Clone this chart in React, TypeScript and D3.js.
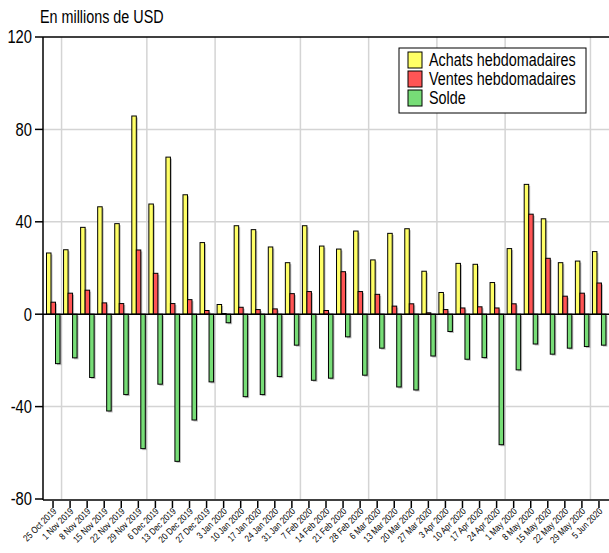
import React from "react";
import * as d3 from "d3";

const dates = ["25 Oct 2019","1 Nov 2019","8 Nov 2019","15 Nov 2019","22 Nov 2019","29 Nov 2019","6 Dec 2019","13 Dec 2019","20 Dec 2019","27 Dec 2019","3 Jan 2020","10 Jan 2020","17 Jan 2020","24 Jan 2020","31 Jan 2020","7 Feb 2020","14 Feb 2020","21 Feb 2020","28 Feb 2020","6 Mar 2020","13 Mar 2020","20 Mar 2020","27 Mar 2020","3 Apr 2020","10 Apr 2020","17 Apr 2020","24 Apr 2020","1 May 2020","8 May 2020","15 May 2020","22 May 2020","29 May 2020","5 Jun 2020"];

const achats = [26.5, 27.9, 37.6, 46.5, 39.2, 85.8, 47.7, 68.0, 51.7, 31.0, 4.2, 38.3, 36.6, 29.1, 22.3, 38.3, 29.5, 28.2, 36.0, 23.5, 35.0, 37.0, 18.6, 9.4, 22.0, 21.6, 13.7, 28.4, 56.2, 41.3, 22.3, 23.0, 27.1];
const ventes = [5.2, 9.1, 10.4, 4.9, 4.6, 27.8, 17.7, 4.6, 6.3, 1.6, 0.3, 3.0, 2.0, 2.3, 8.9, 9.8, 1.6, 18.4, 9.8, 8.6, 3.5, 4.5, 0.6, 2.0, 2.7, 3.2, 2.7, 4.5, 43.3, 24.2, 7.8, 9.1, 13.5];
const solde = [-21.4, -18.9, -27.4, -41.9, -34.8, -58.2, -30.3, -63.7, -45.8, -29.3, -3.7, -35.7, -34.8, -27.0, -13.4, -28.6, -27.7, -9.8, -26.4, -14.7, -31.5, -32.8, -18.1, -7.5, -19.5, -18.8, -56.5, -24.1, -12.9, -17.3, -14.7, -14.0, -13.4];

const seriesNames = ["Achats hebdomadaires", "Ventes hebdomadaires", "Solde"];
const seriesColors = ["#ffff66", "#ff5555", "#77dd77"];
const yTicks = [120, 80, 40, 0, -40, -80];
const title = "En millions de USD";

const W = 609, H = 553;
const left = 43, right = 609, top = 37, bottom = 499;
const FONT = "'Liberation Sans', Arial, sans-serif";
const NARROW = 0.82;

export default function App() {
  const series = [achats, ventes, solde];
  const y = d3.scaleLinear().domain([-80, 120]).range([bottom, top]);
  const x = d3.scaleBand<string>().domain(dates).range([44.5, 607.5]).padding(0);
  const xs = d3.scaleBand<number>().domain([0, 1, 2]).range([2, 15.5]).padding(0);
  const monthOf = (s: string) => s.split(" ")[1];
  const boundaries = dates.filter((d, i) => i > 0 && monthOf(d) !== monthOf(dates[i - 1]));

  return (
    <svg width={W} height={H} style={{ position: "absolute", left: 0, top: 0, background: "#fff" }} fontFamily={FONT}>
      <rect x={0} y={0} width={W} height={H} fill="#fff" />
      <defs>
        <clipPath id="plot"><rect x={left} y={top - 1} width={right - left} height={bottom - top + 2} /></clipPath>
      </defs>
      {/* grid */}
      <g clipPath="url(#plot)">
        {yTicks.filter(t => t !== 0 && t !== 120 && t !== -80).map(t => (
          <line key={t} x1={left} x2={right} y1={y(t)} y2={y(t)} stroke="#d4d4d4" strokeWidth={1.5} />
        ))}
        {boundaries.map(d => (
          <line key={d} x1={x(d)!} x2={x(d)!} y1={top} y2={bottom} stroke="#d4d4d4" strokeWidth={1.5} />
        ))}
      </g>
      {/* bars */}
      <g>
        {series.map((vals, si) => vals.map((v, i) => {
          const bx = x(dates[i])! + xs(si)!;
          const bw = xs.bandwidth();
          const y0 = y(0), y1 = y(v);
          const ry = Math.min(y0, y1), rh = Math.abs(y1 - y0);
          return (
            <g key={si + "-" + i}>
              <rect x={bx + 1.5} y={ry + 1.5} width={bw} height={Math.max(0, rh - (v < 0 ? 0 : 1.5))} fill="#888" opacity={0.55} />
              <rect x={bx} y={ry} width={bw} height={rh} fill={seriesColors[si]} stroke="#000" strokeWidth={1} />
            </g>
          );
        }))}
      </g>
      {/* zero line */}
      <line x1={left} x2={right} y1={y(0)} y2={y(0)} stroke="#000" strokeWidth={1.5} />
      {/* frame */}
      <line x1={left} x2={right} y1={top} y2={top} stroke="#000" strokeWidth={1.5} />
      <line x1={left} x2={right} y1={bottom + 1} y2={bottom + 1} stroke="#000" strokeWidth={1.5} />
      <line x1={left} x2={left} y1={top} y2={bottom + 1} stroke="#000" strokeWidth={1.5} />
      {/* y axis */}
      {yTicks.map(t => (
        <g key={t}>
          <line x1={35} x2={left} y1={y(t)} y2={y(t)} stroke="#000" strokeWidth={1.5} />
          <text transform={`translate(32,${y(t)}) scale(${NARROW},1)`} dy="0.35em" textAnchor="end" fontSize={18} fill="#000">{t}</text>
        </g>
      ))}
      {/* x axis */}
      {dates.map(d => {
        const cx = x(d)! + x.bandwidth() / 2;
        return (
          <g key={d}>
            <line x1={cx} x2={cx} y1={bottom + 2} y2={bottom + 9} stroke="#000" strokeWidth={1.5} />
            <text transform={`translate(${cx + 4},${bottom + 13}) rotate(-45) scale(${NARROW},1)`} textAnchor="end" fontSize={9.5} fill="#000">{d}</text>
          </g>
        );
      })}
      {/* title */}
      <text transform={`translate(40,23) scale(${NARROW},1)`} fontSize={17.5} fill="#000">{title}</text>
      {/* legend */}
      <rect x={399} y={48} width={187} height={65} fill="#fff" stroke="#000" strokeWidth={1} />
      {seriesNames.map((n, i) => (
        <g key={n}>
          <rect x={408} y={52 + i * 19} width={14} height={16} fill={seriesColors[i]} stroke="#000" strokeWidth={1} />
          <text transform={`translate(429,${66 + i * 19}) scale(${NARROW},1)`} fontSize={17.5} fill="#000">{n}</text>
        </g>
      ))}
    </svg>
  );
}
